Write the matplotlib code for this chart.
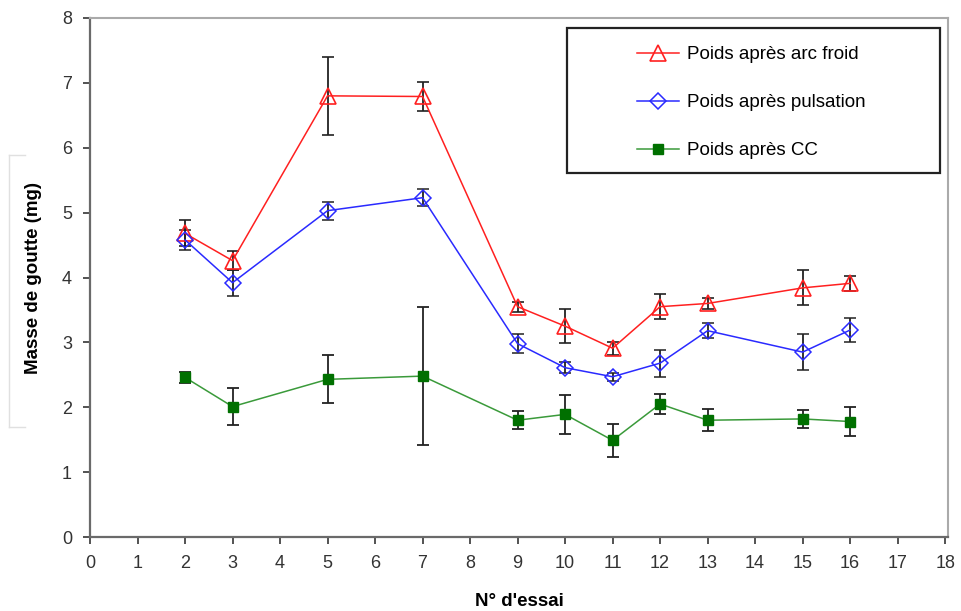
import matplotlib.pyplot as plt
from matplotlib.lines import Line2D

plt.rcParams['font.family'] = ['Liberation Sans', 'DejaVu Sans']

essais = [2, 3, 5, 7, 9, 10, 11, 12, 13, 15, 16]

arc_froid = [4.68, 4.26, 6.80, 6.79, 3.55, 3.25, 2.91, 3.55, 3.60, 3.84, 3.91]
arc_froid_err = [0.20, 0.15, 0.60, 0.22, 0.08, 0.26, 0.10, 0.19, 0.09, 0.27, 0.12]

pulsation = [4.58, 3.92, 5.03, 5.23, 2.98, 2.61, 2.47, 2.68, 3.18, 2.85, 3.19]
pulsation_err = [0.15, 0.20, 0.14, 0.13, 0.15, 0.08, 0.06, 0.21, 0.12, 0.28, 0.18]

cc = [2.46, 2.01, 2.43, 2.48, 1.80, 1.89, 1.49, 2.05, 1.80, 1.82, 1.78]
cc_err = [0.08, 0.29, 0.37, 1.06, 0.14, 0.30, 0.25, 0.16, 0.17, 0.14, 0.23]

fig = plt.figure(figsize=(9.62, 6.11), dpi=100)
ax = fig.add_axes([90 / 962, 74 / 611, 858 / 962, 519 / 611])

err_kw = dict(ecolor='#222222', elinewidth=1.3, capsize=4, capthick=1.3)

ax.errorbar(essais, arc_froid, yerr=arc_froid_err, color='#ff2020', lw=1.1,
            marker='^', ms=11, mfc='none', mec='#ff2020', mew=1.2,
            label='Poids après arc froid', zorder=3, **err_kw)
ax.errorbar(essais, pulsation, yerr=pulsation_err, color='#2a2aff', lw=1.1,
            marker='D', ms=8, mfc='none', mec='#2a2aff', mew=1.1,
            label='Poids après pulsation', zorder=3, **err_kw)
ax.errorbar(essais, cc, yerr=cc_err, color='#3a9a3a', lw=1.1,
            marker='s', ms=7, mfc='#007000', mec='#007000',
            label='Poids après CC', zorder=3, **err_kw)

ax.set_xlim(0, 18.06)
ax.set_ylim(0, 8)
ax.set_xticks(range(0, 19))
ax.set_yticks(range(0, 9))

for s in ['top', 'right']:
    ax.spines[s].set_color('#aaaaaa')
    ax.spines[s].set_linewidth(1.5)
for s in ['left', 'bottom']:
    ax.spines[s].set_color('#6a6a6a')
    ax.spines[s].set_linewidth(1.6)
ax.tick_params(axis='both', direction='out', length=5, width=1.3,
               color='#444444', labelsize=13, labelcolor='#333333')
ax.tick_params(axis='x', pad=8)
ax.tick_params(axis='y', pad=8)

ax.set_xlabel("N° d'essai", fontsize=13.5, fontweight='bold', labelpad=15)
ax.set_ylabel('Masse de goutte (mg)', fontsize=13.5, fontweight='bold', labelpad=14)

# faint partial box left of the y label
for xs, ys in [([9, 9], [155, 427]), ([9, 25], [155, 155]), ([9, 25], [427, 427])]:
    fig.add_artist(Line2D([x / 962 for x in xs], [1 - y / 611 for y in ys],
                          transform=fig.transFigure, color='#e0e0e0', lw=1))

# legend frame
ax.add_patch(plt.Rectangle((0.5565, 0.702), 0.434, 0.279, transform=ax.transAxes,
                           fill=False, edgecolor='#222222', lw=1.6, zorder=4,
                           clip_on=False))
handles, labels = ax.get_legend_handles_labels()
handles = [h[0] for h in handles]
ax.legend(handles, labels, loc='upper left', bbox_to_anchor=(0.637, 0.946),
          frameon=False, fontsize=13.5, borderpad=0, borderaxespad=0,
          handlelength=2.24, handletextpad=0.43, labelspacing=1.65)

fig.savefig('out.png', dpi=100)
